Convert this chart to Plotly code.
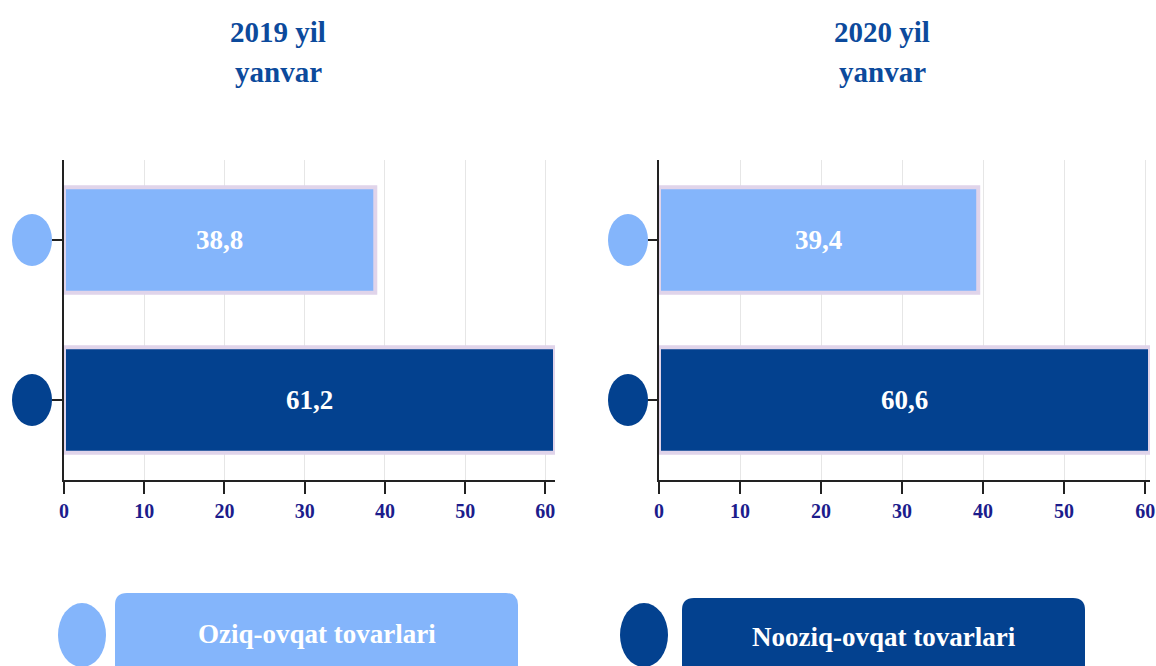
import plotly.graph_objects as go

# ---- data ----
categories = ["Oziq-ovqat tovarlari", "Nooziq-ovqat tovarlari"]
values_2019 = [38.8, 61.2]
values_2020 = [39.4, 60.6]
panel_titles = [("2019 yil", "yanvar"), ("2020 yil", "yanvar")]
tick_vals = [0, 10, 20, 30, 40, 50, 60]
colors = ["#84b5fb", "#03418f"]

W, H = 1156, 666
FONT = "Liberation Serif"

def px(x):
    return x / W

def py(y):
    return (H - y) / H

def fmt(v):
    return f"{v:.1f}".replace(".", ",")

fig = go.Figure()

panels = [(values_2019, "x", "y"), (values_2020, "x2", "y2")]
for vals, xa, ya in panels:
    fig.add_trace(go.Bar(
        y=categories, x=vals, orientation="h",
        xaxis=xa, yaxis=ya,
        marker=dict(color=colors, line=dict(color="#e0d4ea", width=4)),
        width=0.66,
        text=[fmt(v) for v in vals],
        textposition="inside", insidetextanchor="middle",
        textfont=dict(family=FONT, size=27, color="white", weight="bold"),
        hoverinfo="skip", showlegend=False,
    ))

ydom = [py(480), py(160)]
common_x = dict(
    tickmode="array", tickvals=tick_vals, ticks="outside", ticklen=12,
    tickcolor="#222", tickwidth=1.5,
    showline=True, linecolor="#222", linewidth=1.5,
    showgrid=True, gridcolor="#e6e6e6", gridwidth=1, zeroline=False,
    tickfont=dict(family=FONT, size=20, color="#1c1c8c", weight="bold"),
    ticklabeloverflow="allow",
    fixedrange=True, automargin=False,
)
common_y = dict(
    type="category", categoryorder="array", categoryarray=categories,
    autorange="reversed", showticklabels=False, ticks="outside", ticklen=10,
    tickcolor="#222", tickwidth=1.5,
    showline=True, linecolor="#222", linewidth=1.5, showgrid=False,
    domain=ydom, fixedrange=True, automargin=False,
)

fig.update_layout(
    width=W, height=H,
    margin=dict(l=0, r=0, t=0, b=0, pad=0),
    paper_bgcolor="white", plot_bgcolor="white",
    xaxis=dict(domain=[px(64), px(555)], range=[0, max(values_2019)], anchor="y", **common_x),
    yaxis=dict(anchor="x", **common_y),
    xaxis2=dict(domain=[px(659), px(1150)], range=[0, max(values_2020)], anchor="y2", **common_x),
    yaxis2=dict(anchor="x2", **common_y),
)

shapes = []
annotations = []

# circles at category positions (act as y tick labels)
for yref, cx in (("y", 32), ("y2", 628)):
    for i, c in enumerate(categories):
        shapes.append(dict(
            type="circle", xref="paper", yref=yref,
            xsizemode="pixel", ysizemode="pixel",
            xanchor=px(cx), yanchor=i,
            x0=-20, x1=20, y0=-26, y1=26,
            fillcolor=colors[i], line=dict(width=0), layer="above",
        ))

# panel titles
for (l1, l2), cx in zip(panel_titles, (278, 882)):
    for txt, cy in ((l1, 32), (l2, 72)):
        annotations.append(dict(
            text=txt, xref="paper", yref="paper", x=px(cx), y=py(cy),
            xanchor="center", yanchor="middle", showarrow=False,
            font=dict(family=FONT, size=29, color="#0c4a9c", weight="bold"),
        ))

# bottom legend: circle + rounded box with label
def rounded_rect(x0, x1, y0, y1, r=12):
    rx, ry = r / W, r / H
    X0, X1, Y0, Y1 = px(x0), px(x1), py(y1), py(y0)
    return (f"M {X0+rx},{Y1} L {X1-rx},{Y1} Q {X1},{Y1} {X1},{Y1-ry} "
            f"L {X1},{Y0+ry} Q {X1},{Y0} {X1-rx},{Y0} L {X0+rx},{Y0} "
            f"Q {X0},{Y0} {X0},{Y0+ry} L {X0},{Y1-ry} Q {X0},{Y1} {X0+rx},{Y1} Z")

legend_pos = [(82, 115, 518, 593, 634), (644, 682, 1085, 598, 637)]
for i, (ccx, rx0, rx1, rtop, ty) in enumerate(legend_pos):
    shapes.append(dict(
        type="circle", xref="paper", yref="paper",
        x0=px(ccx - 24), x1=px(ccx + 24), y0=py(667), y1=py(603),
        fillcolor=colors[i], line=dict(width=0),
    ))
    shapes.append(dict(
        type="path", xref="paper", yref="paper",
        path=rounded_rect(rx0, rx1, rtop, 700),
        fillcolor=colors[i], line=dict(width=0),
    ))
    annotations.append(dict(
        text=categories[i], xref="paper", yref="paper",
        x=px((rx0 + rx1) / 2), y=py(ty), xanchor="center", yanchor="middle",
        showarrow=False,
        font=dict(family=FONT, size=27, color="white", weight="bold"),
    ))

fig.update_layout(shapes=shapes, annotations=annotations)

fig.write_html(
    "out.html",
    config={"displayModeBar": False},
    post_script="document.body.style.margin='0';document.body.style.overflow='hidden';",
)
